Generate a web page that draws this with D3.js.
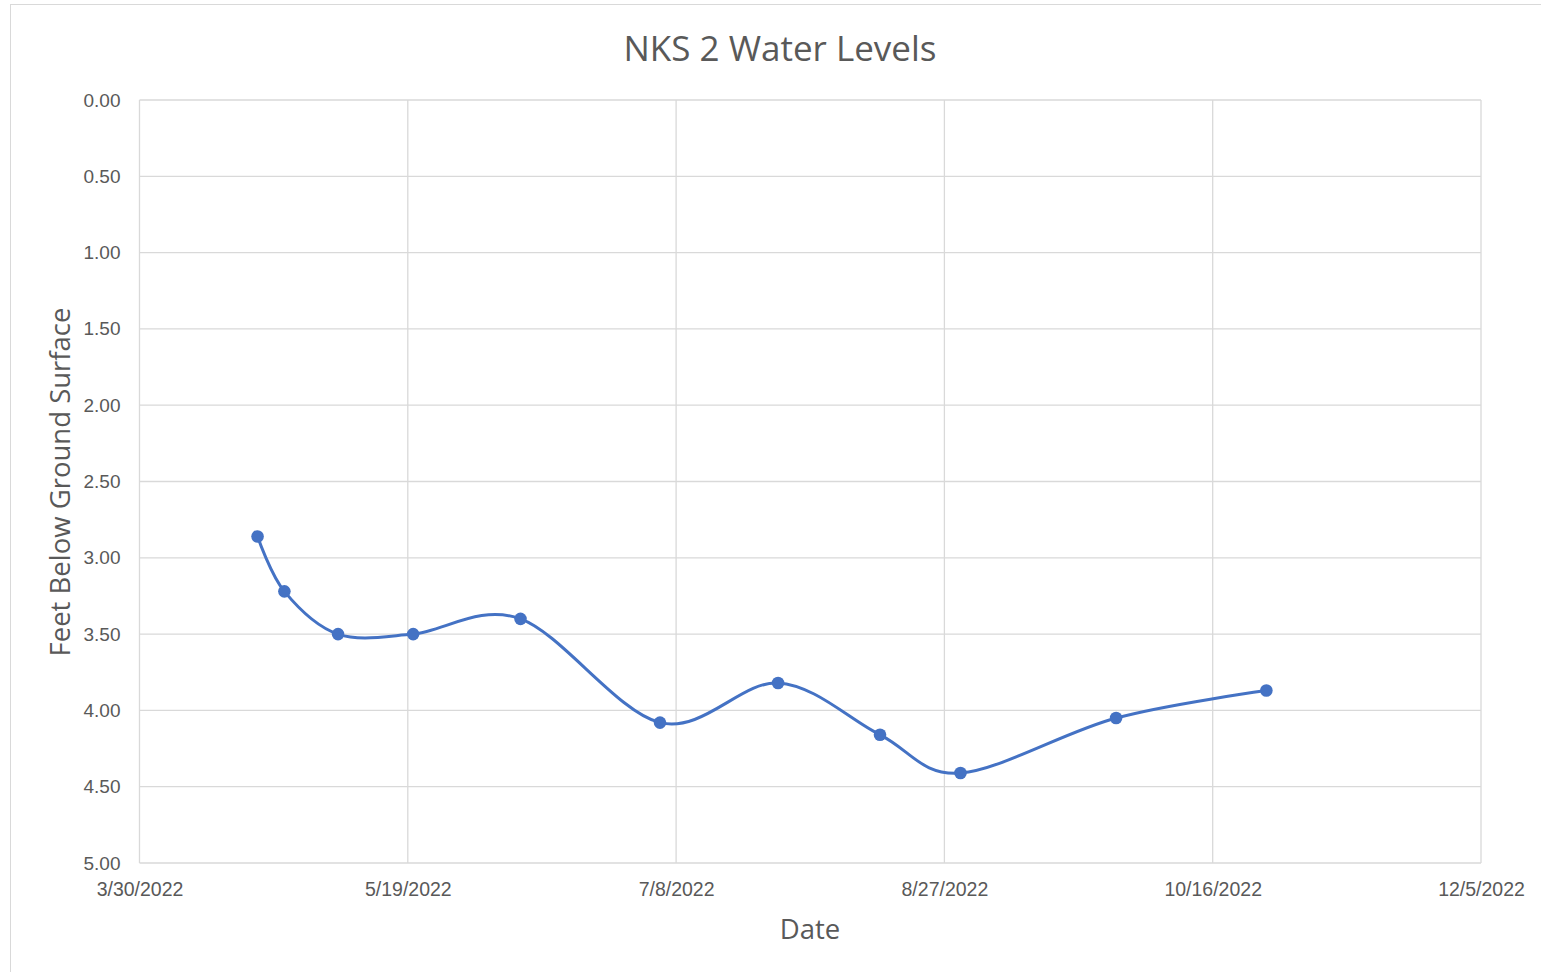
<!DOCTYPE html>
<html>
<head>
<meta charset="utf-8">
<script src="https://cdn.jsdelivr.net/npm/d3@7"></script>
<style>
  body { margin: 0; background: #fff; }
  svg { display: block; font-family: "Open Sans", "Noto Sans", sans-serif; }
</style>
</head>
<body>
<div id="chart"></div>
<script>
// readings (dates and feet below ground surface)
var sampleDates = ["2022-04-21", "2022-04-26", "2022-05-06", "2022-05-20", "2022-06-09",
  "2022-07-05", "2022-07-27", "2022-08-15", "2022-08-30", "2022-09-28", "2022-10-26"];
var waterLevels = [2.86, 3.22, 3.50, 3.50, 3.40, 4.08, 3.82, 4.16, 4.41, 4.05, 3.87];
var xTickDates = ["2022-03-30", "2022-05-19", "2022-07-08", "2022-08-27", "2022-10-16", "2022-12-05"];
var yTicks = [0, 0.5, 1, 1.5, 2, 2.5, 3, 3.5, 4, 4.5, 5];

var width = 1541, height = 972;
var margin = {left: 139.5, right: 60, top: 100, bottom: 109};

var parse = function(s) { var p = s.split('-'); return new Date(+p[0], +p[1] - 1, +p[2]); };
var data = sampleDates.map(function(d, i) { return {date: parse(d), level: waterLevels[i]}; });
var xTicks = xTickDates.map(parse);

var svg = d3.select('#chart')
  .append('svg')
  .attr('width', width)
  .attr('height', height);

// outer chart border
svg.append('rect')
  .attr('x', 10.5).attr('y', 4.5)
  .attr('width', width + 10).attr('height', height + 10)
  .attr('fill', 'none')
  .attr('stroke', '#d9d9d9');

var x = d3.scaleTime()
  .domain([xTicks[0], xTicks[xTicks.length - 1]])
  .range([margin.left, width - margin.right]);
var y = d3.scaleLinear()
  .domain([0, 5])
  .range([margin.top, height - margin.bottom]);

var grid = svg.append('g').attr('stroke', '#d9d9d9').attr('stroke-width', 1.3);
grid.selectAll('.hy').data(yTicks).enter().append('line')
  .attr('x1', x.range()[0]).attr('x2', x.range()[1])
  .attr('y1', function(d) { return y(d); }).attr('y2', function(d) { return y(d); });
grid.selectAll('.vx').data(xTicks).enter().append('line')
  .attr('y1', y.range()[0]).attr('y2', y.range()[1])
  .attr('x1', function(d) { return x(d); }).attr('x2', function(d) { return x(d); });

var fmt = d3.timeFormat('%-m/%-d/%Y');
var xAxis = svg.append('g')
  .attr('transform', 'translate(0,' + y.range()[1] + ')')
  .call(d3.axisBottom(x).tickValues(xTicks).tickFormat(fmt).tickSize(0).tickPadding(19));
xAxis.select('.domain').remove();
xAxis.selectAll('text').attr('fill', '#595959').style('font-size', '19.5px');

var yAxis = svg.append('g')
  .attr('transform', 'translate(' + x.range()[0] + ',0)')
  .call(d3.axisLeft(y).tickValues(yTicks).tickFormat(d3.format('.2f')).tickSize(0).tickPadding(19));
yAxis.select('.domain').remove();
yAxis.selectAll('text').attr('fill', '#595959').style('font-size', '19px');

var line = d3.line()
  .x(function(d) { return x(d.date); })
  .y(function(d) { return y(d.level); })
  .curve(d3.curveCatmullRom.alpha(0));

svg.append('path')
  .datum(data)
  .attr('fill', 'none')
  .attr('stroke', '#4472c4')
  .attr('stroke-width', 3)
  .attr('d', line);

svg.append('g').selectAll('circle')
  .data(data)
  .enter()
  .append('circle')
  .attr('cx', function(d) { return x(d.date); })
  .attr('cy', function(d) { return y(d.level); })
  .attr('r', 6.3)
  .attr('fill', '#4472c4');

svg.append('text')
  .attr('x', 780).attr('y', 61)
  .attr('text-anchor', 'middle')
  .attr('fill', '#595959')
  .style('font-size', '35px')
  .text('NKS 2 Water Levels');

svg.append('text')
  .attr('x', 810).attr('y', 939)
  .attr('text-anchor', 'middle')
  .attr('fill', '#595959')
  .style('font-size', '27.5px')
  .text('Date');

svg.append('text')
  .attr('transform', 'translate(70,482) rotate(-90)')
  .attr('text-anchor', 'middle')
  .attr('fill', '#595959')
  .style('font-size', '27.5px')
  .text('Feet Below Ground Surface');
</script>
</body>
</html>
